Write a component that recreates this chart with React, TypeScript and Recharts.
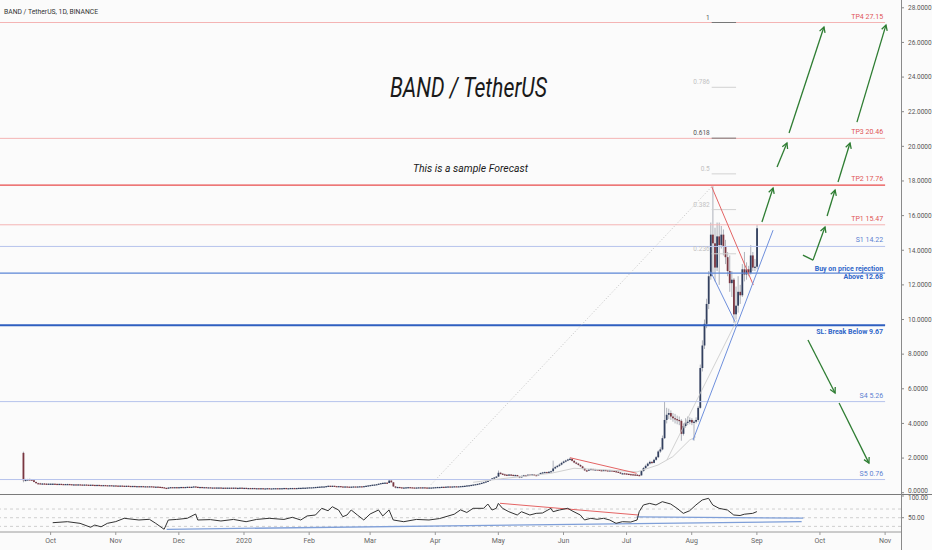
import React from "react";
import { ComposedChart, Bar, Line, XAxis, YAxis, ReferenceLine } from "recharts";

type HLC = [number, number, number];

// daily candles: [high, low, close]; open = previous close
const firstOpen = 2.3;

const sep19: HLC[] = [
  [2.37, 0.6, 0.72], [0.8, 0.66, 0.74], [0.8, 0.7, 0.77], [0.82, 0.72, 0.76], [0.79, 0.7, 0.72],
  [0.74, 0.6, 0.62], [0.64, 0.52, 0.55], [0.58, 0.5, 0.54], [0.57, 0.5, 0.52], [0.56, 0.5, 0.53],
  [0.56, 0.5, 0.52], [0.55, 0.49, 0.51], [0.54, 0.49, 0.52],
];
const oct19: HLC[] = [
  [0.54, 0.5, 0.52], [0.54, 0.5, 0.52], [0.53, 0.5, 0.51], [0.52, 0.49, 0.5], [0.52, 0.49, 0.51],
  [0.52, 0.49, 0.5], [0.51, 0.48, 0.49], [0.51, 0.48, 0.5], [0.52, 0.49, 0.5], [0.51, 0.48, 0.49],
  [0.5, 0.47, 0.48], [0.5, 0.47, 0.48], [0.49, 0.46, 0.47], [0.49, 0.46, 0.48], [0.49, 0.46, 0.47],
  [0.48, 0.45, 0.46], [0.48, 0.45, 0.47], [0.48, 0.45, 0.46], [0.47, 0.44, 0.45], [0.47, 0.44, 0.46],
  [0.47, 0.44, 0.45], [0.46, 0.43, 0.44], [0.46, 0.43, 0.45], [0.46, 0.43, 0.44], [0.45, 0.42, 0.43],
  [0.45, 0.42, 0.44], [0.45, 0.42, 0.43], [0.44, 0.41, 0.42], [0.44, 0.41, 0.43], [0.44, 0.41, 0.42],
  [0.43, 0.41, 0.42],
];
const nov19: HLC[] = [
  [0.43, 0.4, 0.41], [0.42, 0.39, 0.4], [0.42, 0.39, 0.41], [0.42, 0.39, 0.4], [0.41, 0.38, 0.39],
  [0.41, 0.38, 0.4], [0.41, 0.38, 0.39], [0.4, 0.37, 0.38], [0.4, 0.37, 0.39], [0.4, 0.37, 0.38],
  [0.39, 0.37, 0.38], [0.39, 0.36, 0.37], [0.39, 0.36, 0.38], [0.39, 0.36, 0.37], [0.38, 0.36, 0.37],
  [0.38, 0.35, 0.36], [0.38, 0.35, 0.37], [0.38, 0.35, 0.36], [0.37, 0.34, 0.35], [0.36, 0.34, 0.35],
  [0.36, 0.33, 0.34], [0.35, 0.32, 0.33], [0.34, 0.3, 0.31], [0.32, 0.27, 0.28], [0.29, 0.22, 0.24],
  [0.31, 0.24, 0.3], [0.33, 0.29, 0.32], [0.33, 0.3, 0.31], [0.33, 0.3, 0.32], [0.33, 0.3, 0.31],
];
const dec19: HLC[] = [
  [0.33, 0.3, 0.32], [0.34, 0.31, 0.33], [0.34, 0.31, 0.32], [0.34, 0.31, 0.33], [0.35, 0.32, 0.34],
  [0.35, 0.32, 0.33], [0.35, 0.32, 0.34], [0.37, 0.33, 0.36], [0.37, 0.33, 0.34], [0.35, 0.32, 0.33],
  [0.34, 0.32, 0.33], [0.34, 0.31, 0.32], [0.33, 0.31, 0.32], [0.33, 0.3, 0.31], [0.32, 0.3, 0.31],
  [0.32, 0.29, 0.3], [0.31, 0.29, 0.3], [0.31, 0.28, 0.29], [0.31, 0.28, 0.3], [0.31, 0.29, 0.3],
  [0.31, 0.28, 0.29], [0.3, 0.28, 0.29], [0.3, 0.27, 0.28], [0.3, 0.27, 0.29], [0.3, 0.28, 0.29],
  [0.3, 0.27, 0.28], [0.3, 0.27, 0.29], [0.3, 0.27, 0.28], [0.29, 0.27, 0.28], [0.3, 0.27, 0.29],
  [0.3, 0.27, 0.28],
];
const jan20: HLC[] = [
  [0.29, 0.27, 0.28], [0.29, 0.26, 0.27], [0.28, 0.26, 0.27], [0.28, 0.25, 0.26], [0.28, 0.25, 0.27],
  [0.28, 0.25, 0.26], [0.27, 0.25, 0.26], [0.27, 0.24, 0.25], [0.27, 0.24, 0.26], [0.27, 0.24, 0.25],
  [0.26, 0.24, 0.25], [0.27, 0.24, 0.26], [0.27, 0.24, 0.25], [0.26, 0.24, 0.25], [0.27, 0.24, 0.26],
  [0.27, 0.25, 0.26], [0.27, 0.24, 0.25], [0.27, 0.25, 0.26], [0.27, 0.25, 0.26], [0.28, 0.25, 0.27],
  [0.28, 0.25, 0.26], [0.27, 0.25, 0.26], [0.28, 0.25, 0.27], [0.28, 0.26, 0.27], [0.28, 0.25, 0.26],
  [0.28, 0.26, 0.27], [0.29, 0.26, 0.28], [0.29, 0.27, 0.28], [0.3, 0.27, 0.29], [0.3, 0.28, 0.29],
  [0.31, 0.28, 0.3],
];
const feb20: HLC[] = [
  [0.32, 0.29, 0.31], [0.32, 0.3, 0.31], [0.33, 0.3, 0.32], [0.34, 0.31, 0.33], [0.35, 0.32, 0.34],
  [0.36, 0.33, 0.35], [0.37, 0.34, 0.36], [0.37, 0.35, 0.36], [0.39, 0.35, 0.38], [0.41, 0.37, 0.4],
  [0.41, 0.38, 0.39], [0.41, 0.38, 0.4], [0.4, 0.37, 0.38], [0.39, 0.36, 0.37], [0.39, 0.36, 0.38],
  [0.38, 0.35, 0.36], [0.37, 0.34, 0.35], [0.37, 0.34, 0.36], [0.36, 0.34, 0.35], [0.35, 0.33, 0.34],
  [0.36, 0.33, 0.35], [0.37, 0.34, 0.36], [0.36, 0.34, 0.35], [0.37, 0.34, 0.36], [0.38, 0.35, 0.37],
  [0.37, 0.35, 0.36], [0.39, 0.35, 0.38], [0.41, 0.37, 0.4], [0.43, 0.39, 0.42],
];
const mar20: HLC[] = [
  [0.45, 0.41, 0.44], [0.47, 0.43, 0.46], [0.48, 0.45, 0.47], [0.5, 0.46, 0.49], [0.53, 0.48, 0.52],
  [0.56, 0.51, 0.55], [0.58, 0.54, 0.57], [0.6, 0.56, 0.58], [0.59, 0.54, 0.56], [0.78, 0.55, 0.7],
  [0.72, 0.58, 0.6], [0.61, 0.33, 0.36], [0.38, 0.25, 0.32], [0.35, 0.3, 0.33], [0.34, 0.3, 0.31],
  [0.32, 0.28, 0.29], [0.31, 0.28, 0.3], [0.32, 0.29, 0.31], [0.33, 0.3, 0.32], [0.33, 0.3, 0.31],
  [0.32, 0.29, 0.3], [0.31, 0.28, 0.29], [0.31, 0.28, 0.3], [0.32, 0.29, 0.31], [0.32, 0.29, 0.3],
  [0.32, 0.29, 0.31], [0.32, 0.29, 0.3], [0.31, 0.28, 0.29], [0.31, 0.28, 0.3], [0.31, 0.29, 0.3],
  [0.32, 0.29, 0.31],
];
const apr20: HLC[] = [
  [0.33, 0.3, 0.32], [0.34, 0.31, 0.33], [0.34, 0.32, 0.33], [0.35, 0.32, 0.34], [0.35, 0.32, 0.33],
  [0.36, 0.33, 0.35], [0.37, 0.34, 0.36], [0.37, 0.34, 0.35], [0.37, 0.34, 0.36], [0.38, 0.35, 0.37],
  [0.38, 0.35, 0.36], [0.38, 0.35, 0.37], [0.39, 0.36, 0.38], [0.4, 0.37, 0.39], [0.41, 0.38, 0.4],
  [0.43, 0.39, 0.42], [0.44, 0.41, 0.43], [0.46, 0.42, 0.45], [0.48, 0.44, 0.47], [0.5, 0.46, 0.49],
  [0.52, 0.48, 0.51], [0.55, 0.5, 0.54], [0.58, 0.53, 0.57], [0.62, 0.56, 0.61], [0.66, 0.6, 0.65],
  [0.71, 0.64, 0.69], [0.78, 0.68, 0.76], [0.85, 0.74, 0.83], [0.9, 0.81, 0.88], [0.96, 0.86, 0.93],
];
const may20: HLC[] = [
  [1.28, 0.92, 1.15], [1.2, 1.05, 1.1], [1.13, 1.02, 1.06], [1.1, 1.0, 1.04], [1.07, 0.98, 1.01],
  [1.08, 0.99, 1.05], [1.07, 0.99, 1.03], [1.05, 0.96, 0.99], [1.05, 0.97, 1.02], [1.03, 0.92, 0.95],
  [0.97, 0.84, 0.88], [0.99, 0.87, 0.97], [1.03, 0.95, 1.01], [1.03, 0.96, 0.99], [1.06, 0.98, 1.04],
  [1.06, 1.0, 1.03], [1.08, 1.01, 1.05], [1.07, 1.0, 1.02], [1.04, 0.99, 1.01], [1.09, 1.0, 1.07],
  [1.16, 1.05, 1.14], [1.2, 1.12, 1.17], [1.22, 1.14, 1.19], [1.21, 1.13, 1.16], [1.24, 1.15, 1.21],
  [1.28, 1.18, 1.24], [1.85, 1.22, 1.4], [1.55, 1.36, 1.48], [1.6, 1.44, 1.55], [1.68, 1.5, 1.62],
  [1.78, 1.58, 1.72],
];
const jun20: HLC[] = [
  [1.85, 1.68, 1.8], [1.9, 1.75, 1.86], [1.96, 1.82, 1.92], [2.03, 1.86, 1.96], [1.98, 1.8, 1.84],
  [1.88, 1.7, 1.74], [1.78, 1.64, 1.68], [1.72, 1.56, 1.6], [1.64, 1.48, 1.52], [1.55, 1.36, 1.4],
  [1.44, 1.25, 1.29], [1.33, 1.22, 1.27], [1.38, 1.25, 1.34], [1.41, 1.31, 1.37], [1.39, 1.28, 1.31],
  [1.38, 1.29, 1.35], [1.37, 1.3, 1.33], [1.35, 1.27, 1.3], [1.33, 1.26, 1.29], [1.34, 1.27, 1.31],
  [1.33, 1.26, 1.29], [1.31, 1.25, 1.28], [1.32, 1.26, 1.29], [1.31, 1.24, 1.27], [1.29, 1.21, 1.24],
  [1.26, 1.18, 1.21], [1.23, 1.14, 1.17], [1.19, 1.08, 1.11], [1.15, 1.08, 1.12], [1.15, 1.08, 1.11],
];
const jul20: HLC[] = [
  [1.13, 1.06, 1.09], [1.11, 1.04, 1.07], [1.1, 1.03, 1.06], [1.09, 1.02, 1.05], [1.08, 1.01, 1.04],
  [1.07, 0.99, 1.02], [1.05, 0.96, 1.0], [1.3, 0.99, 1.25], [1.48, 1.22, 1.42], [1.62, 1.38, 1.55],
  [1.74, 1.5, 1.68], [1.85, 1.62, 1.78], [1.82, 1.65, 1.72], [1.96, 1.7, 1.9], [2.12, 1.85, 2.05],
  [2.45, 2.0, 2.38], [2.62, 2.3, 2.5], [3.3, 2.45, 3.15], [5.25, 3.1, 4.2], [4.9, 4.0, 4.5],
  [4.85, 4.25, 4.6], [4.75, 4.2, 4.4], [4.6, 4.1, 4.3], [4.55, 4.0, 4.25], [4.45, 3.95, 4.2],
  [4.4, 3.9, 4.15], [4.25, 3.0, 3.4], [4.0, 3.3, 3.85], [4.3, 3.75, 4.05], [4.4, 3.9, 4.1],
  [4.35, 3.95, 4.2],
];
const aug20: HLC[] = [
  [4.3, 3.9, 4.05], [4.2, 3.0, 4.1], [4.35, 4.0, 4.2], [5.0, 4.1, 4.9], [7.4, 4.85, 7.2],
  [8.8, 7.0, 8.5], [10.0, 8.3, 9.75], [11.2, 9.5, 10.9], [12.8, 10.6, 12.5], [15.6, 12.3, 14.9],
  [17.7, 12.6, 14.4], [15.3, 12.2, 13.0], [15.6, 12.8, 14.8], [15.6, 12.0, 14.3], [15.4, 14.1, 14.9],
  [15.2, 13.7, 14.2], [14.6, 13.2, 13.6], [13.9, 12.5, 12.8], [13.7, 11.6, 12.1], [12.8, 11.3, 12.3],
  [12.4, 9.8, 10.3], [11.9, 10.0, 10.8], [12.5, 10.4, 11.6], [12.0, 10.9, 11.4], [13.2, 11.3, 12.9],
  [13.9, 12.2, 12.6], [13.3, 12.3, 12.9], [13.1, 12.5, 12.7], [14.3, 12.6, 13.7], [13.9, 12.8, 13.0],
  [13.5, 12.8, 13.05],
];
const sep20: HLC[] = [[15.45, 12.9, 15.27]];

// first day of each block, counted in days from 1 Jan 2020
const blocks: [number, HLC[]][] = [
  [-105, sep19], [-92, oct19], [-61, nov19], [-31, dec19], [0, jan20], [31, feb20],
  [60, mar20], [91, apr20], [121, may20], [152, jun20], [182, jul20], [213, aug20], [244, sep20],
];

// RSI(14): [day, value]
const rsiPoints: [number, number][] = [
  [-91, 38.5], [-84, 40.8], [-78, 37], [-73, 28], [-71, 33], [-68, 29], [-65, 37], [-61, 41],
  [-57, 48.6], [-50, 44.7], [-45, 46.3], [-42, 37], [-38, 23.3], [-36, 44.7], [-32, 46], [-27, 48.6],
  [-23, 58.5], [-22, 44.7], [-16, 45.6], [-11, 42.4], [-5, 46], [1, 40.8], [6, 46], [12, 48.6],
  [19, 46], [23, 50.9], [27, 44.7], [30, 54], [34, 56.2], [37, 71.6], [40, 66], [42, 75.3],
  [45, 67.8], [47, 52.3], [49, 56.2], [51, 67.8], [54, 56], [57, 44.7], [60, 58.5], [64, 67.8],
  [66, 54], [69, 67.8], [71, 44.7], [76, 40.8], [82, 46], [88, 44.7], [93, 48], [100, 58],
  [103, 68], [106, 62], [109, 71.6], [114, 71.6], [116, 81.5], [118, 67.7], [120, 71.6], [121, 83],
  [123, 71.6], [126, 63.8], [130, 56.2], [132, 63.8], [136, 56.2], [139, 60], [142, 60.8], [146, 71.6],
  [147, 63.8], [150, 67.7], [154, 71.6], [156, 66], [160, 56.2], [162, 44.7], [165, 48.6], [168, 46.3],
  [171, 48.6], [174, 44.7], [177, 37], [180, 40.8], [184, 40], [187, 44.7], [188, 63.8], [190, 79.3],
  [193, 83], [196, 79.3], [199, 86.9], [203, 81.5], [206, 71.6], [209, 60], [212, 66], [215, 79.3],
  [218, 90.8], [221, 94.7], [223, 79.3], [226, 71.6], [230, 67.7], [233, 56.2], [236, 55], [238, 58],
  [242, 60], [244, 64],
];

// faint moving average under the candles
const maPoints: [number, number][] = [
  [109, 0.6], [122, 0.8], [146, 1.12], [157, 1.41], [173, 1.31], [187, 1.2], [197, 1.6],
  [204, 2.08], [212, 3.04], [215, 3.23],
];

const monthTicks = [-92, -61, -31, 0, 31, 60, 91, 121, 152, 182, 213, 244, 274, 305];
const monthLabels = ["Oct", "Nov", "Dec", "2020", "Feb", "Mar", "Apr", "May", "Jun", "Jul", "Aug", "Sep", "Oct", "Nov"];
const priceTicks = [0, 2, 4, 6, 8, 10, 12, 14, 16, 18, 20, 22, 24, 26, 28];

const targets: [string, number][] = [["TP4", 27.15], ["TP3", 20.46], ["TP2", 17.76], ["TP1", 15.47]];
const supports: [string, number][] = [["S1", 14.22], ["S4", 5.26], ["S5", 0.76]];
const buyLevel = 12.68;
const stopLevel = 9.67;
const levelEndDay = 305;

const fibLow = 9.67;
const fibHigh = 27.15;
const fibRatios = [1, 0.786, 0.618, 0.5, 0.382, 0.236];
const fibStart = 222.5;
const fibEnd = 234.1;

// [day1, price1, day2, price2, arrowhead]
const forecast: [number, number, number, number, boolean][] = [
  [246.4, 15.63, 251.7, 17.59, true],
  [253.6, 18.81, 258.3, 20.19, true],
  [259.3, 20.77, 275.9, 26.89, true],
  [265.9, 13.72, 270.7, 13.43, false],
  [270.7, 13.43, 276.4, 15.34, true],
  [277.4, 15.98, 281.2, 17.48, true],
  [282.6, 17.94, 288.3, 20.19, true],
  [291.6, 21.4, 305.4, 27.0, true],
  [268.3, 8.82, 281.2, 5.76, true],
  [283.1, 5.18, 297.3, 1.71, true],
];

const redTrends: [number, number, number, number][] = [
  [222.5, 17.67, 242.3, 11.99],
  [155.1, 2.02, 186.8, 1.12],
];
const blueTrends: [number, number, number, number][] = [
  [213.6, 3.04, 251.7, 15.16],
  [222.0, 12.76, 233.6, 9.87],
];
const greyTrend: [number, number, number, number] = [201.2, 1.89, 234.5, 9.97];
const fibDiagonal: [number, number, number, number] = [89, 0.47, 222.5, 17.67];

const rsiRed: [number, number, number, number] = [121.8, 83.2, 187.6, 56.2];
const rsiBlue: [number, number, number, number][] = [
  [-36.8, 23.3, 265.3, 41.0],
  [186.8, 52.0, 266.1, 48.8],
];

const X_DOMAIN: [number, number] = [-116.08, 312.56];
const FONT = "Roboto, 'Open Sans', sans-serif";
const UP = "#33405f";
const DOWN = "#7a3640";

const candles = (() => {
  const out: any[] = [];
  let prev = firstOpen;
  blocks.forEach(([start, rows]) => {
    rows.forEach(([h, l, c], i) => {
      const high = Math.max(h, prev, c);
      const low = Math.min(l, prev, c);
      out.push({ day: start + i, open: prev, high, low, close: c, range: [low, high] });
      prev = c;
    });
  });
  return out;
})();

const rsiData = rsiPoints.map(([day, rsi]) => ({ day, rsi }));
const maData = maPoints.map(([day, ma]) => ({ day, ma }));

const Candle = (props: any) => {
  const { x, y, width, height, payload } = props;
  if (!payload) return null;
  const { open, close, high, low } = payload;
  const top = height < 0 ? y + height : y;
  const h = Math.abs(height);
  const k = h / (high - low || 1e-6);
  const cx = x + width / 2;
  const yO = top + (high - open) * k;
  const yC = top + (high - close) * k;
  const up = close >= open;
  return (
    <g>
      <line x1={cx} x2={cx} y1={top} y2={top + h} stroke="#9a9eaa" strokeWidth={0.8} />
      <rect
        x={cx - 0.9}
        y={Math.min(yO, yC)}
        width={1.8}
        height={Math.max(Math.abs(yC - yO), 1.2)}
        fill={up ? UP : DOWN}
      />
    </g>
  );
};

const levelShape =
  (color: string, width: number, labels: { text: string; dy: number; color: string; bold?: boolean }[]) =>
  (p: any) => (
    <g>
      <line x1={p.x1} y1={p.y1} x2={p.x2} y2={p.y2} stroke={color} strokeWidth={width} />
      {labels.map((l) => (
        <text
          key={l.text}
          x={p.x2 - 2}
          y={p.y1 + l.dy}
          textAnchor="end"
          fontFamily={FONT}
          fontSize={7}
          fontWeight={l.bold ? 700 : 400}
          fill={l.color}
        >
          {l.text}
        </text>
      ))}
    </g>
  );

const fibShape = (label: string, key: boolean) => (p: any) => (
  <g>
    <line x1={p.x1} y1={p.y1} x2={p.x2} y2={p.y2} stroke={key ? "#777" : "#d2d2d2"} strokeWidth={1} />
    <text x={p.x1 - 2} y={p.y1 - 3} textAnchor="end" fontFamily={FONT} fontSize={6.5} fill={key ? "#555" : "#c2c2c2"}>
      {label}
    </text>
  </g>
);

const arrowShape = (head: boolean) => (p: any) => {
  const { x1, y1, x2, y2 } = p;
  const a = Math.atan2(y2 - y1, x2 - x1);
  const L = 6;
  const w = 0.5;
  const d = `M${x2 - L * Math.cos(a - w)},${y2 - L * Math.sin(a - w)} L${x2},${y2} L${x2 - L * Math.cos(a + w)},${y2 - L * Math.sin(a + w)}`;
  return (
    <g>
      <line x1={x1} y1={y1} x2={x2} y2={y2} stroke="#2e7d32" strokeWidth={1.3} />
      {head && <path d={d} fill="none" stroke="#2e7d32" strokeWidth={1.3} />}
    </g>
  );
};

const seg = (s: [number, number, number, number]) => [
  { x: s[0], y: s[1] },
  { x: s[2], y: s[3] },
];

// right-axis tick that nudges the labels at the pane border apart
const AxisTick = (shift: Record<number, number>, digits: number) => (props: any) => {
  const { x, y, payload } = props;
  const dy = shift[payload.value] ?? 0;
  return (
    <text x={x + 2} y={y + dy} dy="0.35em" fontFamily={FONT} fontSize={6.5} fill="#555">
      {Number(payload.value).toFixed(digits)}
    </text>
  );
};

export default function App() {
  return (
    <div style={{ position: "absolute", left: 0, top: 0, width: 932, height: 550, background: "#fbfbfb", overflow: "hidden" }}>
      <style>{`.recharts-surface{overflow:visible}`}</style>
      <div style={{ position: "absolute", left: 0, top: 0 }}>
        <ComposedChart width={932} height={494} data={candles} margin={{ top: 0, right: 0, bottom: 0, left: 0 }}>
          <XAxis dataKey="day" type="number" domain={X_DOMAIN} allowDataOverflow hide />
          <YAxis
            orientation="right"
            width={31}
            type="number"
            domain={[-0.075, 28.45]}
            allowDataOverflow
            ticks={priceTicks}
            interval={0}
            axisLine={false}
            tickSize={3}
            tickLine={{ stroke: "#888" }}
            tick={AxisTick({ 0: -1.5 }, 4)}
          />

          {targets.map(([name, v]) => (
            <ReferenceLine
              key={name}
              ifOverflow="visible"
              segment={[{ x: X_DOMAIN[0], y: v }, { x: levelEndDay, y: v }]}
              shape={levelShape(name === "TP2" ? "#e84b4b" : "#f4b4b4", name === "TP2" ? 1.2 : 1, [
                { text: `${name} ${v.toFixed(2)}`, dy: -4, color: "#e05555" },
              ])}
            />
          ))}
          {supports.map(([name, v]) => (
            <ReferenceLine
              key={name}
              ifOverflow="visible"
              segment={[{ x: X_DOMAIN[0], y: v }, { x: levelEndDay, y: v }]}
              shape={levelShape("#b6c3ec", 1, [{ text: `${name} ${v.toFixed(2)}`, dy: -4, color: "#5b7fd1" }])}
            />
          ))}
          <ReferenceLine
            ifOverflow="visible"
            segment={[{ x: X_DOMAIN[0], y: buyLevel }, { x: levelEndDay, y: buyLevel }]}
            shape={levelShape("#5b86d6", 1.3, [
              { text: "Buy on price rejection", dy: -2.5, color: "#2f66c9", bold: true },
              { text: `Above ${buyLevel.toFixed(2)}`, dy: 5.5, color: "#2f66c9", bold: true },
            ])}
          />
          <ReferenceLine
            ifOverflow="visible"
            segment={[{ x: X_DOMAIN[0], y: stopLevel }, { x: levelEndDay, y: stopLevel }]}
            shape={levelShape("#2f5fc0", 1.8, [
              { text: `SL: Break Below ${stopLevel.toFixed(2)}`, dy: 8.5, color: "#2f66c9", bold: true },
            ])}
          />

          {fibRatios.map((f) => {
            const v = fibLow + f * (fibHigh - fibLow);
            return (
              <ReferenceLine
                key={f}
                ifOverflow="visible"
                segment={[{ x: fibStart, y: v }, { x: fibEnd, y: v }]}
                shape={fibShape(String(f), f === 1 || f === 0.618)}
              />
            );
          })}

          <ReferenceLine ifOverflow="visible" segment={seg(fibDiagonal)} stroke="#c4c4c4" strokeDasharray="1 2" />
          <Line
            data={maData}
            dataKey="ma"
            type="linear"
            stroke="#d0d0d0"
            strokeWidth={1}
            dot={false}
            activeDot={false}
            isAnimationActive={false}
          />
          <ReferenceLine ifOverflow="visible" segment={seg(greyTrend)} stroke="#c8c8c8" strokeWidth={0.8} />

          <Bar dataKey="range" shape={<Candle />} activeBar={false} isAnimationActive={false} />

          {redTrends.map((s, i) => (
            <ReferenceLine key={`r${i}`} ifOverflow="visible" segment={seg(s)} stroke="#e46464" strokeWidth={1} />
          ))}
          {blueTrends.map((s, i) => (
            <ReferenceLine key={`b${i}`} ifOverflow="visible" segment={seg(s)} stroke="#6e8fdc" strokeWidth={1} />
          ))}
          {forecast.map(([a, b, c, d, head], i) => (
            <ReferenceLine
              key={`f${i}`}
              ifOverflow="visible"
              segment={[{ x: a, y: b }, { x: c, y: d }]}
              shape={arrowShape(head)}
            />
          ))}
        </ComposedChart>
      </div>

      <div style={{ position: "absolute", left: 0, top: 494 }}>
        <ComposedChart width={932} height={56} data={rsiData} margin={{ top: 0, right: 0, bottom: 0, left: 0 }}>
          <XAxis
            dataKey="day"
            type="number"
            domain={X_DOMAIN}
            allowDataOverflow
            ticks={monthTicks}
            interval={0}
            height={18}
            tickFormatter={(v: number) => monthLabels[monthTicks.indexOf(v)]}
            axisLine={{ stroke: "#9a9a9a" }}
            tickSize={3}
            tickMargin={3}
            tickLine={{ stroke: "#999" }}
            tick={{ fontSize: 7, fill: "#666", fontFamily: FONT }}
          />
          <YAxis
            orientation="right"
            width={31}
            type="number"
            domain={[17.05, 104.6]}
            allowDataOverflow
            ticks={[50, 100]}
            interval={0}
            axisLine={false}
            tickSize={3}
            tickLine={{ stroke: "#888" }}
            tick={AxisTick({ 100: 2 }, 2)}
          />
          {[70, 50, 30].map((v) => (
            <ReferenceLine key={v} y={v} stroke="#cfcfcf" strokeDasharray="3 3" />
          ))}
          {rsiBlue.map((s, i) => (
            <ReferenceLine key={`rb${i}`} ifOverflow="visible" segment={seg(s)} stroke="#7f9fd8" strokeWidth={1.3} />
          ))}
          <ReferenceLine ifOverflow="visible" segment={seg(rsiRed)} stroke="#e46464" strokeWidth={1} />
          <Line dataKey="rsi" type="linear" stroke="#333" strokeWidth={1} dot={false} activeDot={false} isAnimationActive={false} />
        </ComposedChart>
      </div>

      <div style={{ position: "absolute", left: 0, top: 494, width: 932, height: 1, background: "#7a7a7a" }} />
      <div style={{ position: "absolute", left: 901, top: 0, width: 1, height: 550, background: "#8a8a8a" }} />

      <svg width={932} height={550} style={{ position: "absolute", left: 0, top: 0, pointerEvents: "none" }}>
        <text x={4} y={13.5} fontFamily={FONT} fontSize={7.5} fill="#333" textLength={94} lengthAdjust="spacingAndGlyphs">
          BAND / TetherUS, 1D, BINANCE
        </text>
        <text
          x={390}
          y={97}
          fontFamily={FONT}
          fontSize={27}
          fontStyle="italic"
          fill="#1a1a1a"
          textLength={157}
          lengthAdjust="spacingAndGlyphs"
        >
          BAND / TetherUS
        </text>
        <text
          x={413}
          y={172}
          fontFamily={FONT}
          fontSize={11}
          fontStyle="italic"
          fill="#1a1a1a"
          textLength={115}
          lengthAdjust="spacingAndGlyphs"
        >
          This is a sample Forecast
        </text>
      </svg>
    </div>
  );
}
